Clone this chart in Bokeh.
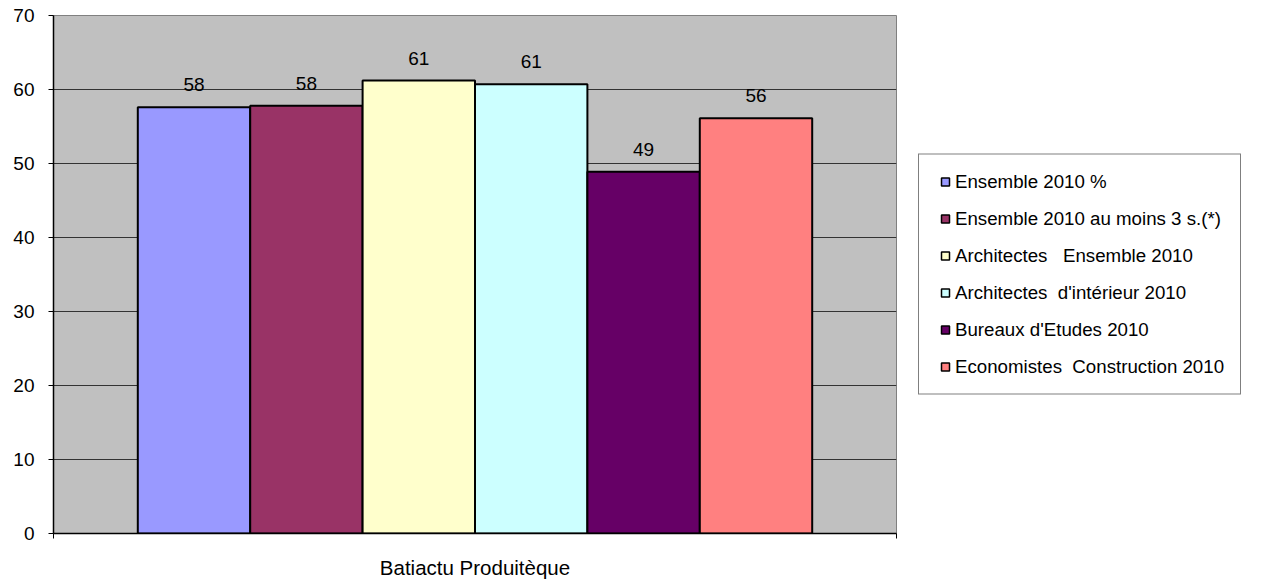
from bokeh.plotting import figure
from bokeh.models import Range1d, FixedTicker, Legend, LegendItem, ColumnDataSource
from bokeh.core.properties import value
from bokeh.embed import file_html
from bokeh.resources import INLINE

category = "Batiactu Produitèque"
series = [
    "Ensemble 2010 %",
    "Ensemble 2010 au moins 3 s.(*)",
    "Architectes   Ensemble 2010",
    "Architectes  d'intérieur 2010",
    "Bureaux d'Etudes 2010",
    "Economistes  Construction 2010",
]
values = [57.6, 57.8, 61.2, 60.7, 48.9, 56.1]
bar_labels = ["58", "58", "61", "61", "49", "56"]
colors = ["#9999FF", "#993366", "#FFFFCC", "#CCFFFF", "#660066", "#FF8080"]
y_ticks = [0, 10, 20, 30, 40, 50, 60, 70]

FONT = "Liberation Sans"
n = len(series)
xs = list(range(n))

p = figure(frame_width=843, frame_height=518, output_backend="svg", toolbar_location=None,
           x_range=Range1d(-1.25, n + 0.25), y_range=Range1d(0, 70),
           min_border_left=53, min_border_right=0, min_border_top=15, min_border_bottom=49)
p.background_fill_color = "#C0C0C0"
p.border_fill_color = "white"
p.outline_line_color = "#808080"
p.outline_line_width = 1

src = ColumnDataSource(dict(x=xs, top=values, color=colors, lab=bar_labels, name=series))
p.vbar(x="x", top="top", width=1.0, bottom=0, fill_color="color", line_color="black",
       line_width=2, source=src)
p.text(x="x", y="top", text="lab", source=src, text_align="center", text_baseline="bottom",
       y_offset=-16, text_font=value(FONT), text_font_size="19px", text_color="black")

# legend glyphs (offscreen points)
items = []
for i in range(n):
    r = p.scatter(x=[-100], y=[-100], marker="square", size=8, fill_color=colors[i],
                  line_color="black", line_width=1.5)
    items.append(LegendItem(label=series[i], renderers=[r]))

legend = Legend(items=items, location="left", orientation="vertical")
legend.padding = 16
legend.glyph_width = 20
legend.glyph_height = 20
legend.label_height = 20
legend.label_standoff = 0
legend.spacing = 15
legend.margin = 22
legend.label_text_font = FONT
legend.label_text_font_size = "18.7px"
legend.label_text_color = "black"
legend.border_line_color = "black"
legend.border_line_width = 1
legend.background_fill_color = "white"
legend.background_fill_alpha = 1
p.add_layout(legend, "right")

# y axis
p.yaxis.ticker = FixedTicker(ticks=y_ticks)
p.yaxis.major_tick_in = 0
p.yaxis.major_tick_out = 5
p.yaxis.minor_tick_line_color = None
p.yaxis.major_label_standoff = 14
p.yaxis.major_label_text_font = FONT
p.yaxis.major_label_text_font_size = "19px"
p.yaxis.major_label_text_color = "black"
p.yaxis.axis_line_color = "black"
p.yaxis.axis_line_width = 1.5
p.yaxis.major_tick_line_color = "black"

# x axis
p.xaxis.ticker = FixedTicker(ticks=[-1.25, n + 0.25])
p.xaxis.major_label_overrides = {-1.25: "", n + 0.25: ""}
p.xaxis.major_label_text_font_size = "1px"
p.xaxis.major_tick_in = 0
p.xaxis.major_tick_out = 5
p.xaxis.minor_tick_line_color = None
p.xaxis.axis_line_color = "black"
p.xaxis.axis_line_width = 1.5
p.xaxis.axis_label = category
p.xaxis.axis_label_text_font = FONT
p.xaxis.axis_label_text_font_style = "normal"
p.xaxis.axis_label_text_font_size = "20.5px"
p.xaxis.axis_label_text_color = "black"
p.xaxis.axis_label_standoff = 17

p.xgrid.grid_line_color = None
p.ygrid.grid_line_color = "#333333"
p.ygrid.grid_line_width = 1

open("out.html", "w").write(file_html(p, INLINE))
